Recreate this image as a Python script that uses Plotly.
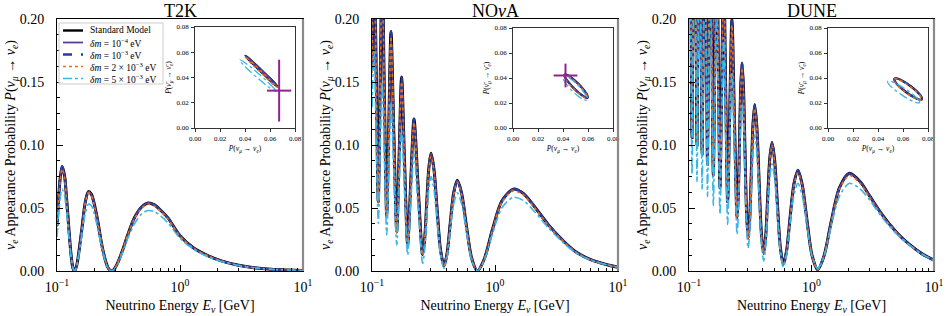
import plotly.graph_objects as go

# ---------------- T2K ----------------
t2k_E = [0.100, 0.103, 0.106, 0.110, 0.115, 0.120, 0.125, 0.130, 0.135, 0.139,
         0.145, 0.152, 0.160, 0.170, 0.180, 0.190, 0.200, 0.215, 0.230, 0.245,
         0.260, 0.277, 0.290, 0.310, 0.340, 0.380, 0.430, 0.490, 0.550, 0.620,
         0.700, 0.800, 1.00, 1.30, 1.70, 2.20, 3.00, 4.00, 5.50, 7.50, 10.0]
t2k_sm = [0.036, 0.057, 0.073, 0.083, 0.076, 0.056, 0.033, 0.013, 0.002, 0.000,
          0.005, 0.018, 0.035, 0.055, 0.063, 0.061, 0.054, 0.039, 0.022, 0.010,
          0.0026, 0.000, 0.0011, 0.006, 0.016, 0.030, 0.043, 0.051, 0.054, 0.0525,
          0.048, 0.042, 0.028, 0.018, 0.012, 0.0078, 0.0045, 0.0026, 0.0014, 0.0008, 0.0004]
t2k_dm2 = [0.035, 0.055, 0.071, 0.081, 0.074, 0.055, 0.032, 0.013, 0.002, 0.000,
           0.005, 0.017, 0.034, 0.054, 0.062, 0.060, 0.053, 0.038, 0.022, 0.010,
           0.0025, 0.000, 0.001, 0.006, 0.016, 0.030, 0.042, 0.050, 0.053, 0.0515,
           0.047, 0.041, 0.0275, 0.0178, 0.0118, 0.0077, 0.0045, 0.0026, 0.0014, 0.0008, 0.0004]
t2k_dm5 = [0.027, 0.044, 0.057, 0.065, 0.060, 0.045, 0.027, 0.011, 0.002, 0.000,
           0.004, 0.015, 0.030, 0.046, 0.053, 0.052, 0.046, 0.033, 0.019, 0.009,
           0.002, 0.000, 0.001, 0.005, 0.014, 0.027, 0.038, 0.0455, 0.048, 0.047,
           0.0435, 0.038, 0.026, 0.017, 0.0112, 0.0074, 0.0043, 0.0025, 0.0013, 0.0008, 0.0004]

# ---------------- NOvA ----------------
nova_E = [0.100, 0.104, 0.1081, 0.1125, 0.1166, 0.121, 0.1261, 0.1317, 0.1370, 0.1427,
          0.1504, 0.159, 0.1662, 0.174, 0.1839, 0.195, 0.2065, 0.2195, 0.2372, 0.258,
          0.2677, 0.2783, 0.2897, 0.302, 0.3192, 0.3385, 0.3603, 0.385, 0.4075, 0.4327,
          0.4615, 0.494, 0.5359, 0.5853, 0.6448, 0.718, 0.818, 0.951, 1.136, 1.41,
          1.7, 2.1, 2.7, 3.5, 4.5, 6.0, 8.0, 10.0]
nova_sm = [0.16, 0.26, 0.16, 0.055, 0.15, 0.24, 0.14, 0.044, 0.117, 0.190,
           0.110, 0.031, 0.092, 0.154, 0.087, 0.0206, 0.0706, 0.1206, 0.0668, 0.013,
           0.0247, 0.0532, 0.0817, 0.0934, 0.0804, 0.0487, 0.017, 0.004, 0.0139, 0.038,
           0.0621, 0.072, 0.0615, 0.036, 0.0105, 0.000, 0.0095, 0.0325, 0.0555, 0.065,
           0.0615, 0.051, 0.037, 0.025, 0.0155, 0.009, 0.0052, 0.003]
nova_dm2 = [0.157, 0.254, 0.157, 0.054, 0.147, 0.235, 0.137, 0.043, 0.115, 0.186,
            0.108, 0.030, 0.090, 0.150, 0.085, 0.020, 0.069, 0.118, 0.065, 0.0125,
            0.024, 0.052, 0.080, 0.091, 0.0785, 0.0476, 0.0166, 0.0039, 0.0136, 0.037,
            0.0606, 0.0703, 0.060, 0.0352, 0.0103, 0.000, 0.0093, 0.0318, 0.0543, 0.0636,
            0.0602, 0.050, 0.0363, 0.0245, 0.0152, 0.0088, 0.0051, 0.003]
nova_dm5 = [0.13, 0.175, 0.107, 0.038, 0.094, 0.150, 0.089, 0.0286, 0.081, 0.133,
            0.077, 0.0206, 0.066, 0.112, 0.062, 0.0127, 0.053, 0.093, 0.0495, 0.006,
            0.0163, 0.0405, 0.0649, 0.075, 0.0643, 0.0385, 0.0127, 0.002, 0.0108, 0.032,
            0.0532, 0.062, 0.053, 0.031, 0.009, 0.000, 0.0085, 0.029, 0.050, 0.0585,
            0.056, 0.047, 0.0345, 0.0235, 0.0147, 0.0086, 0.005, 0.0029]

# ---------------- DUNE ----------------
dune_E = [0.100, 0.101, 0.1033, 0.1058, 0.1083, 0.111, 0.1136, 0.1163, 0.119, 0.122,
          0.125, 0.128, 0.1314, 0.135, 0.1382, 0.1416, 0.1452, 0.149, 0.1534, 0.158,
          0.1629, 0.168, 0.1733, 0.179, 0.1853, 0.192, 0.1991, 0.2068, 0.2151, 0.224,
          0.2349, 0.247, 0.2526, 0.2584, 0.2646, 0.271, 0.2786, 0.2865, 0.2951, 0.304,
          0.3131, 0.3228, 0.333, 0.344, 0.3578, 0.3729, 0.3891, 0.407, 0.4223, 0.4388,
          0.4566, 0.476, 0.500, 0.5264, 0.5559, 0.589, 0.6266, 0.669, 0.7184, 0.775,
          0.840, 0.918, 1.009, 1.125, 1.267, 1.449, 1.695, 2.04, 2.5, 3.0,
          3.8, 5.0, 6.3, 8.0, 10.0]
dune_sm = [0.41, 0.42, 0.263, 0.106, 0.253, 0.40, 0.25, 0.100, 0.24, 0.38,
           0.2365, 0.093, 0.2215, 0.35, 0.2175, 0.085, 0.2025, 0.32, 0.198, 0.076,
           0.178, 0.28, 0.173, 0.066, 0.153, 0.24, 0.1475, 0.055, 0.1275, 0.200,
           0.121, 0.042, 0.060, 0.1035, 0.147, 0.165, 0.1447, 0.0955, 0.0463, 0.026,
           0.0415, 0.079, 0.1165, 0.132, 0.1148, 0.073, 0.0312, 0.014, 0.0268, 0.058,
           0.0892, 0.102, 0.0879, 0.0537, 0.0194, 0.0053, 0.0162, 0.0427, 0.0691, 0.080,
           0.0685, 0.0405, 0.0125, 0.001, 0.0122, 0.0393, 0.0663, 0.0775, 0.0708, 0.0592,
           0.0443, 0.0302, 0.0211, 0.0136, 0.0086]
dune_dm2 = [0.40, 0.41, 0.259, 0.106, 0.249, 0.39, 0.246, 0.100, 0.236, 0.37,
            0.233, 0.093, 0.218, 0.341, 0.214, 0.085, 0.199, 0.312, 0.195, 0.076,
            0.175, 0.273, 0.170, 0.066, 0.150, 0.234, 0.145, 0.055, 0.125, 0.195,
            0.119, 0.042, 0.059, 0.1015, 0.1435, 0.161, 0.141, 0.0935, 0.0457, 0.026,
            0.041, 0.0775, 0.1138, 0.129, 0.112, 0.0715, 0.0307, 0.014, 0.0265, 0.0567,
            0.087, 0.0995, 0.086, 0.0525, 0.019, 0.0053, 0.016, 0.0418, 0.0675, 0.078,
            0.067, 0.0397, 0.0123, 0.001, 0.012, 0.0385, 0.065, 0.0758, 0.0693, 0.058,
            0.0435, 0.0298, 0.0208, 0.0134, 0.0085]
dune_dm5 = [0.295, 0.30, 0.1885, 0.077, 0.1835, 0.29, 0.1805, 0.071, 0.173, 0.275,
            0.17, 0.065, 0.16, 0.255, 0.157, 0.059, 0.147, 0.235, 0.1435, 0.052,
            0.131, 0.21, 0.1275, 0.045, 0.115, 0.185, 0.111, 0.037, 0.0975, 0.158,
            0.0935, 0.029, 0.0442, 0.081, 0.1178, 0.133, 0.1162, 0.0755, 0.0348, 0.018,
            0.0311, 0.063, 0.0949, 0.108, 0.0934, 0.058, 0.0226, 0.008, 0.0192, 0.0465,
            0.0738, 0.085, 0.073, 0.044, 0.015, 0.003, 0.0127, 0.0363, 0.0599, 0.0696,
            0.0597, 0.0358, 0.0119, 0.002, 0.0119, 0.0358, 0.0597, 0.0696, 0.065, 0.056,
            0.042, 0.029, 0.0205, 0.0133, 0.0084]

# ---------------- inset loops (P(nu) vs P(nubar)) ----------------
t2k_in_sm_x = [0.0660, 0.0645, 0.0600, 0.0536, 0.0472, 0.0423, 0.0404, 0.0419, 0.0464, 0.0528, 0.0592, 0.0641, 0.0660]
t2k_in_sm_y = [0.0328, 0.0347, 0.0393, 0.0454, 0.0515, 0.0558, 0.0572, 0.0553, 0.0507, 0.0446, 0.0385, 0.0342, 0.0328]
t2k_in_d2_x = [0.0655, 0.0640, 0.0595, 0.0531, 0.0467, 0.0418, 0.0399, 0.0414, 0.0459, 0.0523, 0.0587, 0.0636, 0.0655]
t2k_in_d2_y = [0.0323, 0.0342, 0.0388, 0.0449, 0.0510, 0.0553, 0.0567, 0.0548, 0.0502, 0.0441, 0.0380, 0.0337, 0.0323]
t2k_in_d5_x = [0.0647, 0.0633, 0.0584, 0.0512, 0.0439, 0.0382, 0.0357, 0.0371, 0.0420, 0.0492, 0.0565, 0.0622, 0.0647]
t2k_in_d5_y = [0.0290, 0.0313, 0.0363, 0.0427, 0.0488, 0.0529, 0.0540, 0.0517, 0.0467, 0.0403, 0.0342, 0.0301, 0.0290]
t2k_data = dict(x=0.0673, y=0.0296, ex=0.0097, ey=0.0245)

nova_in_sm_x = [0.0597, 0.0594, 0.0566, 0.0523, 0.0474, 0.0434, 0.0413, 0.0416, 0.0444, 0.0487, 0.0536, 0.0576, 0.0597]
nova_in_sm_y = [0.0242, 0.0263, 0.0304, 0.0353, 0.0397, 0.0424, 0.0428, 0.0407, 0.0366, 0.0317, 0.0273, 0.0246, 0.0242]
nova_in_d2_x = [0.0594, 0.0591, 0.0563, 0.0520, 0.0471, 0.0431, 0.0410, 0.0413, 0.0441, 0.0484, 0.0533, 0.0573, 0.0594]
nova_in_d2_y = [0.0239, 0.0260, 0.0301, 0.0350, 0.0394, 0.0421, 0.0425, 0.0404, 0.0363, 0.0314, 0.0270, 0.0243, 0.0239]
nova_in_d5_x = [0.0590, 0.0589, 0.0562, 0.0518, 0.0467, 0.0424, 0.0400, 0.0401, 0.0428, 0.0472, 0.0523, 0.0566, 0.0590]
nova_in_d5_y = [0.0224, 0.0248, 0.0292, 0.0343, 0.0388, 0.0414, 0.0416, 0.0392, 0.0349, 0.0298, 0.0253, 0.0226, 0.0224]
nova_data = dict(x=0.042, y=0.042, ex=0.0095, ey=0.0095)

dune_in_sm_x = [0.0752, 0.0746, 0.0712, 0.0659, 0.0601, 0.0554, 0.0531, 0.0536, 0.0570, 0.0623, 0.0681, 0.0728, 0.0752]
dune_in_sm_y = [0.0229, 0.0252, 0.0291, 0.0336, 0.0374, 0.0396, 0.0395, 0.0372, 0.0333, 0.0288, 0.0250, 0.0228, 0.0229]
dune_in_d2_x = [0.0749, 0.0743, 0.0709, 0.0656, 0.0598, 0.0551, 0.0528, 0.0533, 0.0567, 0.0620, 0.0678, 0.0725, 0.0749]
dune_in_d2_y = [0.0226, 0.0249, 0.0288, 0.0333, 0.0371, 0.0393, 0.0392, 0.0369, 0.0330, 0.0285, 0.0247, 0.0225, 0.0226]
dune_in_d5_x = [0.0733, 0.0724, 0.0682, 0.0621, 0.0554, 0.0502, 0.0477, 0.0486, 0.0528, 0.0590, 0.0656, 0.0708, 0.0733]
dune_in_d5_y = [0.0203, 0.0226, 0.0266, 0.0311, 0.0351, 0.0373, 0.0373, 0.0350, 0.0310, 0.0265, 0.0225, 0.0203, 0.0203]

titles = ["T2K", "NO<i>ν</i>A", "DUNE"]
legend_names = ["Standard Model",
                "<i>δm</i> = 10<sup>−4</sup> eV",
                "<i>δm</i> = 10<sup>−3</sup> eV",
                "<i>δm</i> = 2 × 10<sup>−3</sup> eV",
                "<i>δm</i> = 5 × 10<sup>−3</sup> eV"]
x_tick_vals = [0.1, 1, 10]
x_tick_text = ["10<sup>−1</sup>", "10<sup>0</sup>", "10<sup>1</sup>"]

FONT = "Liberation Serif, DejaVu Serif, serif"
styles = [dict(color="#000000", dash="solid", width=3.0),
          dict(color="#5e3c99", dash="solid", width=1.8),
          dict(color="#233f9e", dash="dash", width=2.4),
          dict(color="#e07020", dash="dot", width=1.6),
          dict(color="#38b6e8", dash="dashdot", width=1.6)]
inset_styles = [dict(color="#000000", dash="solid", width=2.2),
                dict(color="#5e3c99", dash="solid", width=1.5),
                dict(color="#233f9e", dash="dash", width=1.7),
                dict(color="#e07020", dash="dot", width=1.3),
                dict(color="#38b6e8", dash="dashdot", width=1.3)]

panels = [
    (t2k_E, [t2k_sm, t2k_sm, t2k_sm, t2k_dm2, t2k_dm5],
     [(t2k_in_sm_x, t2k_in_sm_y), (t2k_in_sm_x, t2k_in_sm_y), (t2k_in_sm_x, t2k_in_sm_y),
      (t2k_in_d2_x, t2k_in_d2_y), (t2k_in_d5_x, t2k_in_d5_y)], t2k_data),
    (nova_E, [nova_sm, nova_sm, nova_sm, nova_dm2, nova_dm5],
     [(nova_in_sm_x, nova_in_sm_y), (nova_in_sm_x, nova_in_sm_y), (nova_in_sm_x, nova_in_sm_y),
      (nova_in_d2_x, nova_in_d2_y), (nova_in_d5_x, nova_in_d5_y)], nova_data),
    (dune_E, [dune_sm, dune_sm, dune_sm, dune_dm2, dune_dm5],
     [(dune_in_sm_x, dune_in_sm_y), (dune_in_sm_x, dune_in_sm_y), (dune_in_sm_x, dune_in_sm_y),
      (dune_in_d2_x, dune_in_d2_y), (dune_in_d5_x, dune_in_d5_y)], None),
]

W, H = 947, 316
main_x = [(57, 303), (372, 618), (689, 934)]
inset_x = [(195, 295), (513, 613), (828, 928)]
inset_y = [(27, 128), (28, 128), (28, 128)]
main_y = (19, 271)

fig = go.Figure()
layout = dict(width=W, height=H, margin=dict(l=0, r=0, t=0, b=0),
              paper_bgcolor="white", plot_bgcolor="white",
              font=dict(family=FONT, color="black"),
              showlegend=False)

minor_vals = [0.2, 0.3, 0.4, 0.5, 0.6, 0.7, 0.8, 0.9, 2, 3, 4, 5, 6, 7, 8, 9]
annotations = []
shapes = []

for i, (E, ys, loops, dat) in enumerate(panels):
    mx = 2 * i + 1
    ix = 2 * i + 2
    xa = "x" if mx == 1 else f"x{mx}"
    ya = "y" if mx == 1 else f"y{mx}"
    xi = f"x{ix}"
    yi = f"y{ix}"
    for k in range(5):
        fig.add_trace(go.Scatter(x=E, y=ys[k], mode="lines", name=legend_names[k],
                                 line=dict(shape="spline", smoothing=0.8, **styles[k]),
                                 xaxis=xa, yaxis=ya))
    for k in range(5):
        lx, ly = loops[k]
        fig.add_trace(go.Scatter(x=lx, y=ly, mode="lines", name=legend_names[k],
                                 line=dict(shape="spline", smoothing=1.0, **inset_styles[k]),
                                 xaxis=xi, yaxis=yi))
    if dat is not None:
        fig.add_trace(go.Scatter(x=[dat["x"]], y=[dat["y"]], mode="markers", name="data",
                                 marker=dict(size=1, color="#8e2490"),
                                 error_x=dict(type="data", array=[dat["ex"]], color="#8e2490", thickness=2, width=0),
                                 error_y=dict(type="data", array=[dat["ey"]], color="#8e2490", thickness=2, width=0),
                                 xaxis=xi, yaxis=yi))

    x0, x1 = main_x[i]
    layout["xaxis" if mx == 1 else f"xaxis{mx}"] = dict(
        domain=[x0 / W, x1 / W], anchor=ya, type="log", range=[-1, 1],
        tickvals=x_tick_vals, ticktext=x_tick_text,
        ticks="inside", ticklen=6, tickwidth=1, tickcolor="black",
        minor=dict(tickvals=minor_vals, ticks="inside", ticklen=3, tickwidth=0.8, tickcolor="black"),
        showline=True, linecolor="black", linewidth=1, mirror=True,
        showgrid=False, zeroline=False, automargin=False,
        tickfont=dict(size=14), ticklabelstandoff=3,
        title=dict(text="Neutrino Energy <i>E<sub>ν</sub></i> [GeV]", font=dict(size=14), standoff=6))
    layout["yaxis" if mx == 1 else f"yaxis{mx}"] = dict(
        domain=[1 - main_y[1] / H, 1 - main_y[0] / H], anchor=xa, range=[0, 0.2],
        tickvals=[0, 0.05, 0.10, 0.15, 0.20], ticktext=["0.00", "0.05", "0.10", "0.15", "0.20"],
        ticks="inside", ticklen=6, tickwidth=1, tickcolor="black",
        minor=dict(dtick=0.0125, tick0=0, ticks="inside", ticklen=3, tickwidth=0.8, tickcolor="black"),
        showline=True, linecolor="black", linewidth=1, mirror=True,
        showgrid=False, zeroline=False, automargin=False,
        tickfont=dict(size=14), ticklabelstandoff=9,
        title=dict(text="<i>ν<sub>e</sub></i> Appearance Probability <i>P</i>(<i>ν<sub>μ</sub></i> → <i>ν<sub>e</sub></i>)",
                   font=dict(size=14), standoff=0))
    shapes.append(dict(type="line", xref=f"{xa} domain", yref=f"{ya} domain",
                       x0=1, x1=1, y0=0, y1=1, line=dict(color="#8a8a8a", width=2.2)))

    a0, a1 = inset_x[i]
    b0, b1 = inset_y[i]
    layout[f"xaxis{ix}"] = dict(
        domain=[a0 / W, a1 / W], anchor=yi, range=[0, 0.08],
        tickvals=[0, 0.02, 0.04, 0.06, 0.08], ticktext=["0.00", "0.02", "0.04", "0.06", "0.08"],
        ticks="outside", ticklen=3, tickwidth=0.8, tickcolor="#333",
        showline=True, linecolor="#333", linewidth=0.9, mirror=True,
        showgrid=False, zeroline=False, automargin=False,
        tickfont=dict(size=7), ticklabelstandoff=1,
        title=dict(text="<i>P</i>(<i>ν<sub>μ</sub></i> → <i>ν<sub>e</sub></i>)", font=dict(size=7.5), standoff=3))
    layout[f"yaxis{ix}"] = dict(
        domain=[1 - b1 / H, 1 - b0 / H], anchor=xi, range=[0, 0.08],
        tickvals=[0, 0.02, 0.04, 0.06, 0.08], ticktext=["0.00", "0.02", "0.04", "0.06", "0.08"],
        ticks="outside", ticklen=3, tickwidth=0.8, tickcolor="#333",
        showline=True, linecolor="#333", linewidth=0.9, mirror=True,
        showgrid=False, zeroline=False, automargin=False,
        tickfont=dict(size=7), ticklabelstandoff=1,
        title=dict(text="<i>P</i>(<i>ν̄<sub>μ</sub></i> → <i>ν̄<sub>e</sub></i>)", font=dict(size=7.5), standoff=3))

    annotations.append(dict(text=titles[i], x=(x0 + x1) / 2 / W, y=1 - 11 / H, xref="paper", yref="paper",
                            showarrow=False, font=dict(size=18), xanchor="center", yanchor="middle"))

# hand-drawn legend box (matplotlib-like compact spacing)
lg_left, lg_top, lg_right, lg_bottom = 59, 23, 163, 84
shapes.append(dict(type="rect", xref="paper", yref="paper",
                   x0=lg_left / W, x1=lg_right / W, y0=1 - lg_bottom / H, y1=1 - lg_top / H,
                   line=dict(color="#cccccc", width=1), fillcolor="rgba(255,255,255,0.9)", layer="above"))
row_y = [30.5, 42.5, 54.5, 66.5, 78.5]
for k in range(5):
    yy = 1 - row_y[k] / H
    st = styles[k]
    shapes.append(dict(type="line", xref="paper", yref="paper", x0=63 / W, x1=83 / W, y0=yy, y1=yy,
                       line=dict(color=st["color"], dash=st["dash"], width=min(st["width"], 2.4)),
                       layer="above"))
    annotations.append(dict(text=legend_names[k], x=88 / W, y=yy, xref="paper", yref="paper",
                            showarrow=False, xanchor="left", yanchor="middle",
                            font=dict(size=9.5)))

layout["annotations"] = annotations
layout["shapes"] = shapes
fig.update_layout(**layout)
fig.write_html("out.html", config={"displayModeBar": False},
               post_script="document.body.style.margin='0px';")
